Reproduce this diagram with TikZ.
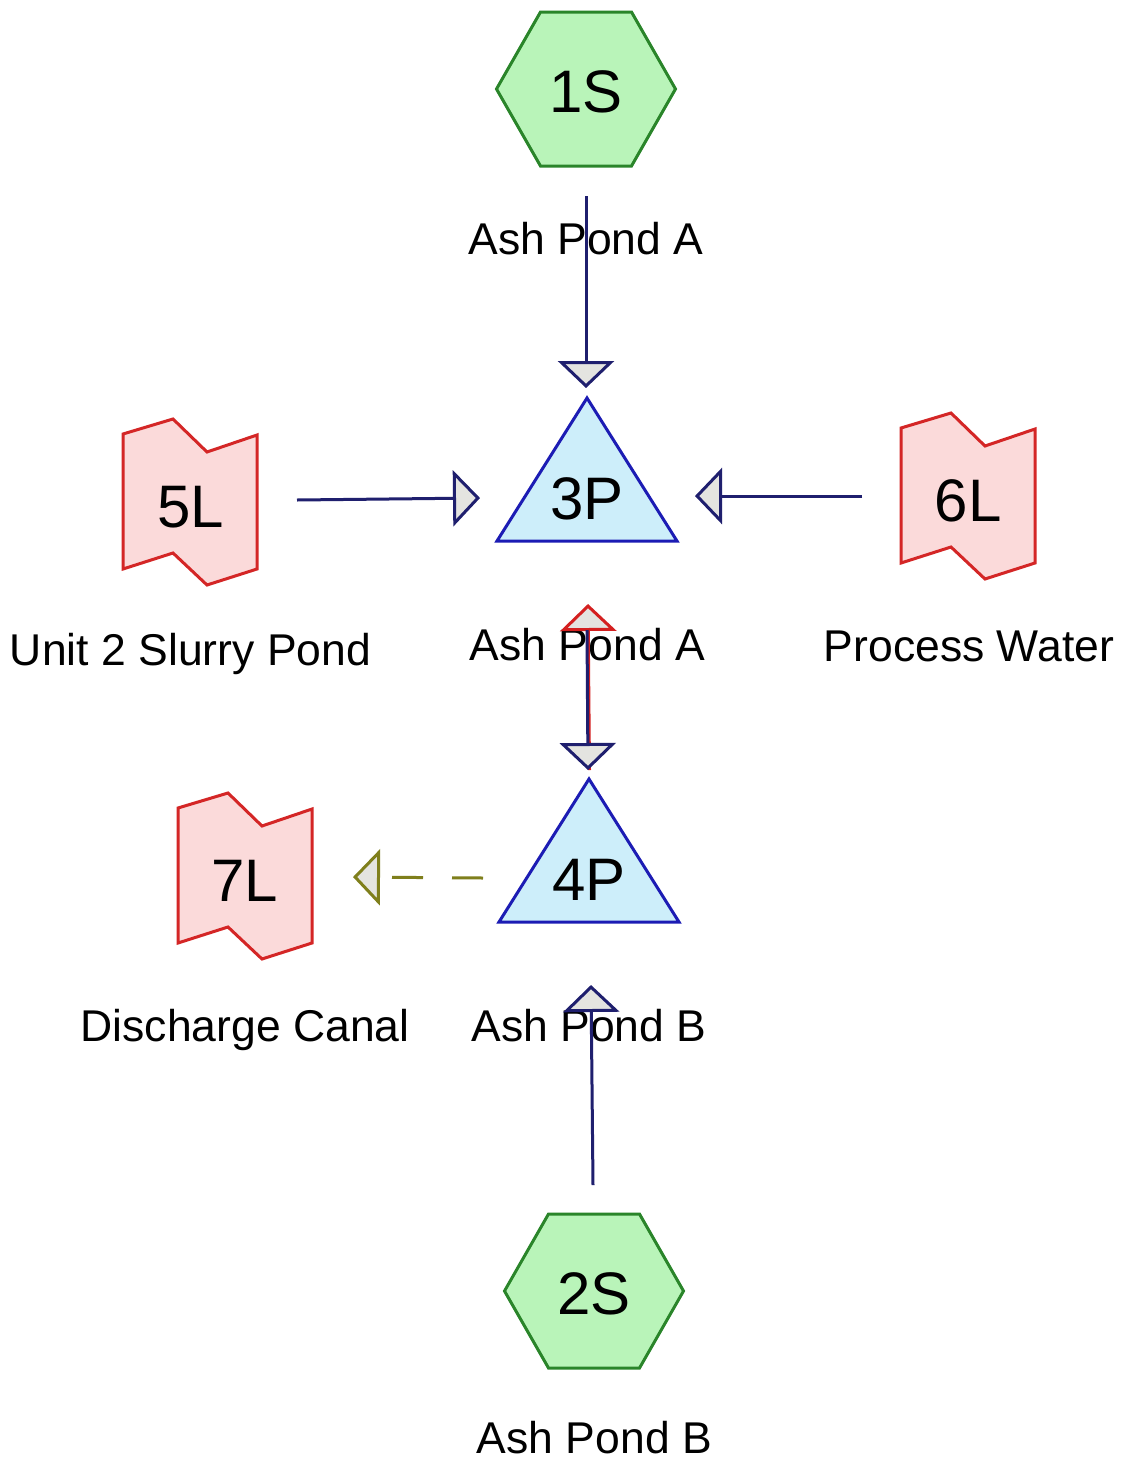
\documentclass[tikz,border=0pt]{standalone}
\usepackage{fontspec}
\setmainfont{Liberation Sans}
\usetikzlibrary{arrows.meta}
\definecolor{hexfill}{HTML}{B9F4B9}
\definecolor{hexdraw}{HTML}{2A852A}
\definecolor{trifill}{HTML}{CDEEFA}
\definecolor{tridraw}{HTML}{1C1CB4}
\definecolor{flagfill}{HTML}{FBDADA}
\definecolor{flagdraw}{HTML}{D42626}
\definecolor{navy}{HTML}{1F1F6E}
\definecolor{redc}{HTML}{D42020}
\definecolor{olive}{HTML}{7F7F1C}
\definecolor{tipfill}{HTML}{E4E4E0}
\begin{document}
\begin{tikzpicture}[x=1pt,y=-1pt,
  shapelbl/.style={font=\fontsize{60}{60}\selectfont, inner sep=0pt},
  caption/.style={font=\fontsize{44.5}{44.5}\selectfont, anchor=base, inner sep=0pt},
  hexsty/.style={fill=hexfill, draw=hexdraw, line width=3pt, line join=miter},
  tristy/.style={fill=trifill, draw=tridraw, line width=3pt, line join=miter},
  flagsty/.style={fill=flagfill, draw=flagdraw, line width=3pt, line join=miter},
  hexa/.pic={\draw[hexsty] (-89.5,0) -- (-45.5,-77) -- (45.5,-77) -- (89.5,0) -- (45.5,77) -- (-45.5,77) -- cycle;},
  tria/.pic={\draw[tristy] (0,-101) -- (90,42) -- (-90,42) -- cycle;},
  flag/.pic={\draw[flagsty] (-67,-68) -- (-17,-83) -- (17,-50) -- (67,-67) -- (67,67) -- (17,83) -- (-17,51) -- (-67,67) -- cycle;},
  conn/.style={draw=navy, line width=3pt, -{Triangle[width=56pt,length=27pt,fill=tipfill]}},
  redconn/.style={draw=redc, line width=3pt, -{Triangle[width=56pt,length=27pt,fill=tipfill]}},
  oliveconn/.style={draw=olive, line width=3pt, dash pattern=on 31pt off 29pt, -{Triangle[width=56pt,length=27pt,fill=tipfill]}}
]
\useasboundingbox (0,0) rectangle (1127,1462);
\fill[white] (0,0) rectangle (1127,1462);

% shapes
\pic at (586,89) {hexa};
\pic at (594,1291) {hexa};
\pic at (587,499) {tria};
\pic at (589,880) {tria};
\pic at (190,502) {flag};
\pic at (968,496) {flag};
\pic at (245,876) {flag};

% shape labels
\node[shapelbl] (s1) at (586,92) {1S};
\node[shapelbl] (s2) at (594,1294) {2S};
\node[shapelbl] (p3) at (587,499) {3P};
\node[shapelbl] (p4) at (589,880) {4P};
\node[shapelbl] (l5) at (191,507) {5L};
\node[shapelbl] (l6) at (968,501) {6L};
\node[shapelbl] (l7) at (245,881) {7L};

% captions
\node[caption] (cs1) at (586,254) {Ash Pond A};
\node[caption] (cl5) at (190.5,665) {Unit 2 Slurry Pond};
\node[caption] (cp3) at (587.5,660) {Ash Pond A};
\node[caption] (cl6) at (969,661) {Process Water};
\node[caption] (cl7) at (245,1041) {Discharge Canal};
\node[caption] (cp4) at (589,1041) {Ash Pond B};
\node[caption] (cs2) at (594.5,1453) {Ash Pond B};

% connectors
\draw[conn] ([shift={(0,104)}]s1.center) -- ([shift={(-1,-111)}]p3.center);
\draw[conn] ([shift={(106,-7)}]l5.center) -- ([shift={(-107,-1)}]p3.center);
\draw[conn] ([shift={(-106,-5)}]l6.center) -- ([shift={(108,-3)}]p3.center);
\draw[redconn] ([shift={(0.5,-110)}]p4.center) -- ([shift={(1,105)}]p3.center);
\draw[conn] ([shift={(0,131)}]p3.center) -- ([shift={(-1,-110)}]p4.center);
\draw[oliveconn] ([shift={(-106,-2)}]p4.center) -- ([shift={(108,-4)}]l7.center);
\draw[conn] ([shift={(-1,-109)}]s2.center) -- ([shift={(2,105)}]p4.center);
\end{tikzpicture}
\end{document}
